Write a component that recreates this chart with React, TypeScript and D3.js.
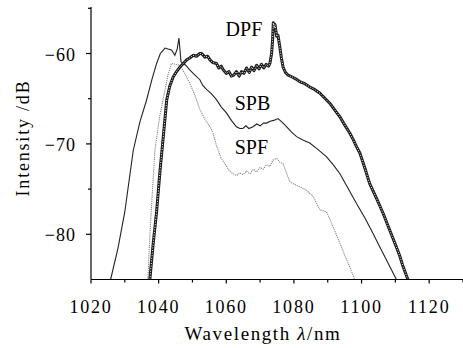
import React from "react";
import * as d3 from "d3";

const xTicks = [1020, 1040, 1060, 1080, 1100, 1120];
const xMinor = [1030, 1050, 1070, 1090, 1110, 1130];
const yTicks = [-60, -70, -80];
const yMinor = [-55, -65, -75];

const spb: [number, number][] = [
  [1025.8, -85], [1028, -81.5], [1030, -77.5], [1032.5, -70.7], [1034.5, -67.5], [1036.4, -65.2],
  [1038, -62.9], [1039.4, -61.1], [1040.5, -60.0], [1041.9, -59.4], [1042.8, -59.5], [1043.8, -59.6],
  [1044.8, -60.2], [1045.5, -59.5], [1046, -58.3], [1046.3, -59.5], [1046.6, -60.9], [1048, -61.3],
  [1049.2, -61.8], [1050.5, -62.3], [1052.2, -62.9], [1053, -63.5], [1054.2, -64.0], [1055.5, -64.4],
  [1057.1, -65.1], [1058.5, -65.9], [1060.1, -66.6], [1061.5, -67.4], [1063, -68.1], [1064, -68.3],
  [1064.9, -68.3], [1065.8, -68.0], [1066.7, -68.3], [1067.9, -68.1], [1069, -67.8], [1070, -68.0],
  [1071, -67.7], [1071.9, -67.7], [1073, -67.5], [1074, -67.4], [1075.3, -67.2], [1076.5, -67.6],
  [1077.8, -68.1], [1079.3, -68.7], [1080.8, -69.2], [1082.8, -69.6], [1084.7, -69.9], [1086.7, -70.5],
  [1089.6, -71.4], [1091.6, -72.3], [1093.6, -73.3], [1096, -74.9], [1098.5, -76.6], [1101, -78.2],
  [1103.4, -79.9], [1105.4, -81.4], [1107.3, -82.8], [1110.3, -85],
];

const dpf: [number, number][] = [
  [1037.4, -85], [1038.4, -81], [1039.4, -77.5], [1040.4, -73], [1041.3, -69.5], [1042.4, -65.1],
  [1043.3, -63.6], [1044.3, -62.6], [1045.3, -62], [1046.3, -61.5], [1047.3, -61.1], [1048.3, -60.7],
  [1049.2, -60.5], [1050.2, -60.2], [1051.2, -60.3], [1052.2, -60.0], [1052.7, -60.0], [1053.7, -60.4],
  [1054.5, -60.3], [1055.2, -60.7], [1056, -61.0], [1057.1, -61.1], [1057.8, -61.6], [1058.5, -61.4],
  [1059.1, -61.8], [1060, -62.2], [1060.8, -62.0], [1061.5, -62.5], [1062.2, -62.4], [1063, -62.0],
  [1063.8, -62.5], [1064.5, -62.0], [1065.2, -62.2], [1066, -61.6], [1066.8, -62.1], [1067.5, -61.5],
  [1068.2, -61.9], [1069, -61.3], [1069.7, -61.7], [1070.4, -61.2], [1071.1, -61.6], [1071.8, -61.2],
  [1072.5, -61.4], [1072.9, -61.1], [1073.4, -60], [1073.7, -58.5], [1073.9, -56.6], [1074.2, -57.2],
  [1074.4, -56.8], [1074.9, -58.1], [1075.3, -58.0], [1075.8, -59.2], [1076.3, -60.5], [1076.8, -61.5],
  [1077.5, -62.1], [1078.3, -62.4], [1079.5, -62.6], [1080.5, -62.8], [1081.7, -63.1], [1083, -63.3],
  [1084.7, -63.7], [1086.2, -64.0], [1087.7, -64.4], [1089, -64.9], [1090.6, -65.5], [1092, -66.2],
  [1093.6, -67.0], [1095, -67.9], [1096.5, -68.8], [1097.5, -69.5], [1098.5, -70.3], [1099.5, -71.0],
  [1101, -72.7], [1102.4, -74.4], [1104.4, -76], [1106.4, -77.7], [1108.4, -79.6], [1110.3, -81.4],
  [1111.3, -82.4], [1112.3, -83.6], [1113.7, -85],
];

const spf: [number, number][] = [
  [1036.8, -85], [1037.5, -79.5], [1038.2, -75], [1038.9, -70.7], [1040.3, -67], [1041.9, -64],
  [1042.8, -62.3], [1043.8, -61.1], [1045, -61.2], [1046.3, -61.3], [1047.7, -62.2], [1049.2, -63.3],
  [1050.7, -64.6], [1052.2, -66.2], [1053.7, -67.3], [1055.2, -68.1], [1056.1, -68.8], [1057.1, -70.2],
  [1058.5, -71.6], [1060.1, -72.5], [1061, -73.0], [1062, -73.3], [1063, -73.5], [1064, -73.2],
  [1065, -73.4], [1066, -73.0], [1067, -73.3], [1068, -72.8], [1069, -73.1], [1070, -72.6],
  [1070.9, -72.8], [1071.9, -72.3], [1072.9, -72.5], [1073.8, -71.8], [1074.9, -71.6], [1075.8, -72.0],
  [1076.8, -72.2], [1077.8, -73.2], [1078.8, -74.2], [1079.8, -74.4], [1080.8, -74.6], [1082, -74.8],
  [1083.7, -75.1], [1084.7, -75.5], [1085.7, -75.8], [1086.7, -76.6], [1087.7, -77.3], [1088.7, -77.4],
  [1089.6, -77.5], [1090.6, -78.3], [1091.6, -79.2], [1092.6, -80.1], [1093.6, -81], [1095, -82.3],
  [1096.5, -83.6], [1098, -85],
];

const seriesLabels = [
  { name: "DPF", x: 1059.8, y: -58.1 },
  { name: "SPB", x: 1062.5, y: -66.2 },
  { name: "SPF", x: 1062.5, y: -71.1 },
];

const W = 463;
const H = 348;
const FONT = "'Liberation Serif', 'Times New Roman', serif";

export default function App() {
  const x = d3.scaleLinear().domain([1020, 1130]).range([91, 463]);
  const y = d3.scaleLinear().domain([-85, -55]).range([279.5, 8.3]);
  const line = d3
    .line<[number, number]>()
    .x((d) => x(d[0]))
    .y((d) => y(d[1]))
    .curve(d3.curveLinear);
  const x0 = x(1020);
  const y0 = y(-85);

  return (
    <svg
      width={W}
      height={H}
      style={{ position: "absolute", left: 0, top: 0, background: "#fff" }}
      fontFamily={FONT}
    >
      <rect x={0} y={0} width={W} height={H} fill="#fff" />
      {/* curves */}
      <path d={line(spf) || ""} fill="none" stroke="#888" strokeWidth={1.1} strokeDasharray="1.2 0.9" />
      <path d={line(spb) || ""} fill="none" stroke="#222" strokeWidth={1.1} />
      <path d={line(dpf) || ""} fill="none" stroke="#1a1a1a" strokeWidth={3} strokeLinejoin="round" />
      <path d={line(dpf) || ""} fill="none" stroke="#fff" strokeWidth={1} strokeDasharray="1 1.6" />

      {/* axes */}
      <line x1={x0} y1={7} x2={x0} y2={y0} stroke="#000" strokeWidth={1.2} />
      <line x1={x0} y1={y0} x2={463} y2={y0} stroke="#000" strokeWidth={1.2} />
      {yTicks.map((t) => (
        <line key={"yt" + t} x1={x0 - 5} x2={x0} y1={y(t)} y2={y(t)} stroke="#000" strokeWidth={1.2} />
      ))}
      {yMinor.map((t) => (
        <line key={"ym" + t} x1={x0 - 3} x2={x0} y1={y(t)} y2={y(t)} stroke="#000" strokeWidth={1.2} />
      ))}
      {xTicks.map((t) => (
        <line key={"xt" + t} x1={x(t)} x2={x(t)} y1={y0} y2={y0 + 4} stroke="#000" strokeWidth={1.2} />
      ))}
      {xMinor.map((t) => (
        <line key={"xm" + t} x1={x(t)} x2={x(t)} y1={y0} y2={y0 + 3} stroke="#000" strokeWidth={1.2} />
      ))}
      {yTicks.map((t) => (
        <text key={"yl" + t} x={76} y={y(t) + 7} textAnchor="end" fontSize={18} letterSpacing={1}>
          {"\u2212" + Math.abs(t)}
        </text>
      ))}
      {xTicks.map((t) => (
        <text key={"xl" + t} x={x(t)} y={313} textAnchor="middle" fontSize={18} letterSpacing={1.8}>
          {t}
        </text>
      ))}
      <text x={263} y={340} textAnchor="middle" fontSize={19} letterSpacing={1.6}>
        Wavelength <tspan fontStyle="italic">λ</tspan>/nm
      </text>
      <text
        transform={`translate(29,138) rotate(-90)`}
        textAnchor="middle"
        fontSize={18}
        letterSpacing={1.8}
      >
        Intensity /dB
      </text>
      {seriesLabels.map((s) => (
        <text key={s.name} x={x(s.x)} y={y(s.y)} fontSize={20}>
          {s.name}
        </text>
      ))}
    </svg>
  );
}
